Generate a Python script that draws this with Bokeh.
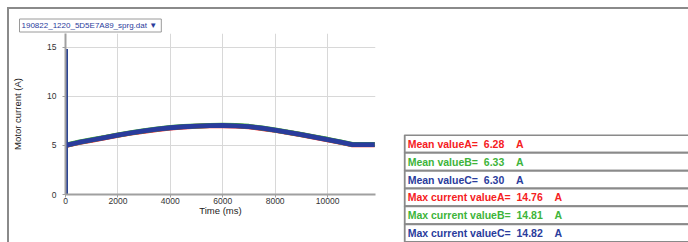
from bokeh.plotting import figure
from bokeh.models import Range1d, ColumnDataSource, FixedTicker
from bokeh.layouts import row
from bokeh.embed import file_html
from bokeh.resources import INLINE
from bokeh.core.properties import value

# ---- data ----
file_name = "190822_1220_5D5E7A89_sprg.dat"
time_ms = [0, 0, 0, 500, 1000, 1500, 2000, 2500, 3000, 3500, 4000, 4500, 5000, 5500, 6000,
           6500, 7000, 7500, 8000, 8500, 9000, 9500, 10000, 10500, 10950, 11800]
current_c = [0, 14.82, 5.00, 5.30, 5.55, 5.80, 6.05, 6.27, 6.47, 6.65, 6.80, 6.90, 6.97, 7.02, 7.03,
             7.00, 6.92, 6.75, 6.55, 6.33, 6.10, 5.85, 5.60, 5.33, 5.08, 5.08]
current_a = [0, 14.76, 4.98, 5.28, 5.53, 5.78, 6.03, 6.25, 6.45, 6.63, 6.78, 6.88, 6.95, 7.00, 7.01,
             6.98, 6.90, 6.73, 6.53, 6.31, 6.08, 5.83, 5.58, 5.31, 5.06, 5.06]
current_b = [0, 14.81, 5.02, 5.32, 5.57, 5.82, 6.07, 6.29, 6.49, 6.67, 6.82, 6.92, 6.99, 7.04, 7.05,
             7.02, 6.94, 6.77, 6.57, 6.35, 6.12, 5.87, 5.62, 5.35, 5.10, 5.10]

x_ticks = [0, 2000, 4000, 6000, 8000, 10000]
y_ticks = [0, 5, 10, 15]

stat_labels = ["Mean valueA=", "Mean valueB=", "Mean valueC=",
               "Max current valueA=", "Max current valueB=", "Max current valueC="]
stat_values = [6.28, 6.33, 6.30, 14.76, 14.81, 14.82]
stat_unit = "A"

RED = "#f5201e"
GREEN = "#3db43a"
BLUE = "#2a3c9c"
stat_colors = [RED, GREEN, BLUE, RED, GREEN, BLUE]

FONT = "Liberation Sans"

# ---- chart ----
p = figure(width=394, height=233, output_backend="svg", toolbar_location=None,
           x_range=Range1d(0, 11830), y_range=Range1d(0, 16.4),
           min_border_left=55, min_border_right=28, min_border_top=24, min_border_bottom=48)
p.frame_align = False
p.outline_line_color = None
p.background_fill_color = "white"
p.border_fill_color = "white"

p.line(time_ms, current_a, line_color=RED, line_width=5)
p.line(time_ms, current_b, line_color=GREEN, line_width=5)
p.line(time_ms, current_c, line_color=BLUE, line_width=4.8)

for ax in (p.xaxis[0], p.yaxis[0]):
    ax.axis_line_color = "#a0a0a0"
    ax.axis_line_width = 2
    ax.major_tick_line_color = "#a0a0a0"
    ax.major_tick_out = 3
    ax.major_tick_in = 0
    ax.minor_tick_line_color = None
    ax.major_label_text_font = FONT
    ax.major_label_text_font_size = "8.5px"
    ax.major_label_text_color = "#333333"
    ax.axis_label_text_font = FONT
    ax.axis_label_text_font_size = "9.5px"
    ax.axis_label_text_font_style = "normal"
    ax.axis_label_text_color = "#222222"

p.xaxis.ticker = FixedTicker(ticks=x_ticks)
p.yaxis.ticker = FixedTicker(ticks=y_ticks)
p.xaxis.axis_label = "Time (ms)"
p.yaxis.axis_label = "Motor current (A)"
p.xaxis.axis_label_standoff = -2
p.yaxis.axis_label_standoff = 21
p.xaxis.major_label_standoff = 0
p.yaxis.major_label_standoff = 6

p.xgrid.grid_line_color = "#d8d8d8"
p.ygrid.grid_line_color = "#d8d8d8"

# file selector box above the plot
p.title.text = file_name + "  \u25BC"
p.title.align = "left"
p.title.offset = -46
p.title.standoff = 3
p.title.text_font = FONT
p.title.text_font_size = "8px"
p.title.text_font_style = "normal"
p.title.text_color = BLUE
p.title.background_fill_color = "white"
p.title.border_line_color = "#9a9a9a"
p.title.border_line_width = 1
p.title.padding = 2

# ---- statistics table ----
n = len(stat_labels)
rows_top = [n - i for i in range(n)]
rows_bottom = [n - i - 1 for i in range(n)]
texts = [f"{lab}\u00a0\u00a0{v:.2f}\u00a0\u00a0\u00a0\u00a0{stat_unit}" for lab, v in zip(stat_labels, stat_values)]
src = ColumnDataSource(dict(top=rows_top, bottom=rows_bottom,
                            mid=[(a + b) / 2 for a, b in zip(rows_top, rows_bottom)],
                            text=texts, color=stat_colors))

t = figure(width=285, height=233, output_backend="svg", toolbar_location=None,
           x_range=Range1d(-0.004, 1), y_range=Range1d(-0.03, n + 0.03),
           min_border_left=0, min_border_right=0, min_border_top=125, min_border_bottom=0)
t.frame_align = False
t.axis.visible = False
t.grid.visible = False
t.outline_line_color = None
t.border_fill_color = "white"
t.quad(left=0, right=1.1, top="top", bottom="bottom", source=src,
       fill_color="white", line_color="#8a8a8a", line_width=2)
t.text(x=0, y="mid", text="text", source=src, text_color="color",
       text_font=value(FONT), text_font_style="bold", text_font_size="10.5px",
       text_baseline="middle", text_align="left", x_offset=3)

layout = row(p, t, styles={"margin-left": "7px", "margin-top": "7px",
                           "border-top": "2px solid #8a8a8a",
                           "border-left": "2px solid #8a8a8a"})

open("out.html", "w").write(file_html(layout, INLINE))
